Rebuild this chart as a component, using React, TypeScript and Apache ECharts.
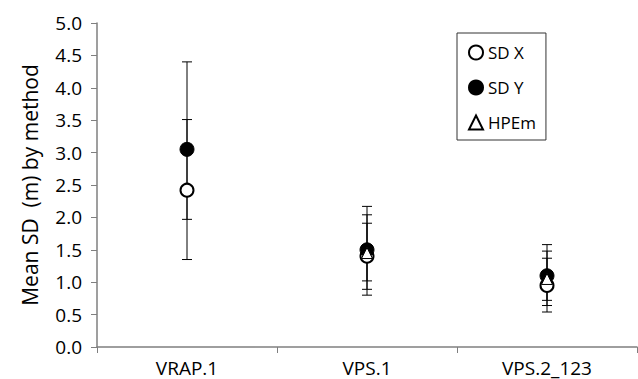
import React, { useEffect, useRef } from "react";
import * as echarts from "echarts";

const categories = ["VRAP.1", "VPS.1", "VPS.2_123"];

const sdX = [2.42, 1.4, 0.95];
const sdY = [3.05, 1.5, 1.1];
const hpem = [null, 1.45, 1.05];

// error bar end points [low, high] per category
const sdXErr = [
  [1.35, 3.51],
  [0.89, 1.91],
  [0.64, 1.37],
];
const sdYErr = [
  [1.97, 4.4],
  [0.8, 2.17],
  [0.72, 1.58],
];
const hpemErr = [
  null,
  [1.02, 2.04],
  [0.54, 1.48],
];

const FONT = "Open Sans";

export default function App() {
  const ref = useRef<HTMLDivElement>(null);
  useEffect(() => {
    if (!ref.current) return;
    const chart = echarts.init(ref.current, null, { renderer: "svg" });

    const errData: any[] = [];
    [sdXErr, sdYErr, hpemErr].forEach((arr) => {
      arr.forEach((e, i) => {
        if (e) errData.push([i, e[0], e[1]]);
      });
    });

    const renderItem = (params: any, api: any) => {
      const x = api.value(0);
      const lo = api.coord([x, api.value(1)]);
      const hi = api.coord([x, api.value(2)]);
      const hw = 5;
      const style = { stroke: "#000", lineWidth: 1 };
      return {
        type: "group",
        children: [
          { type: "line", shape: { x1: lo[0], y1: lo[1], x2: hi[0], y2: hi[1] }, style },
          { type: "line", shape: { x1: lo[0] - hw, y1: lo[1], x2: lo[0] + hw, y2: lo[1] }, style },
          { type: "line", shape: { x1: hi[0] - hw, y1: hi[1], x2: hi[0] + hw, y2: hi[1] }, style },
        ],
      };
    };

    chart.setOption({
      animation: false,
      backgroundColor: "#fff",
      grid: { left: 97, right: 1, top: 23, bottom: 32, containLabel: false },
      legend: {
        orient: "vertical",
        left: 457,
        top: 33,
        padding: [11, 10, 9, 11],
        itemGap: 18,
        itemWidth: 14,
        itemHeight: 14,
        borderColor: "#333",
        borderWidth: 1,
        textStyle: { fontFamily: FONT, fontSize: 17, color: "#000" },
        data: ["SD X", "SD Y", "HPEm"],
      },
      xAxis: {
        type: "category",
        data: categories,
        axisLine: { lineStyle: { color: "#7f7f7f", width: 1.5 } },
        axisTick: { show: true, length: 6, lineStyle: { color: "#7f7f7f" } },
        axisLabel: { fontFamily: FONT, fontSize: 19, color: "#000", margin: 11 },
        splitLine: { show: false },
      },
      yAxis: {
        type: "value",
        min: 0,
        max: 5,
        interval: 0.5,
        name: "Mean SD  (m) by method",
        nameLocation: "middle",
        nameGap: 57,
        nameTextStyle: { fontFamily: FONT, fontSize: 21, color: "#000" },
        axisLine: { show: true, lineStyle: { color: "#7f7f7f", width: 1.5 } },
        axisTick: { show: true, length: 6, lineStyle: { color: "#7f7f7f" } },
        axisLabel: {
          fontFamily: FONT,
          fontSize: 19,
          color: "#000",
          margin: 15,
          formatter: (v: number) => v.toFixed(1),
        },
        splitLine: { show: false },
      },
      series: [
        {
          type: "custom",
          name: "err",
          renderItem,
          data: errData,
          encode: { x: 0, y: [1, 2] },
          z: 1,
          silent: true,
        },
        {
          type: "scatter",
          name: "SD X",
          data: sdX.map((v, i) => [i, v]),
          symbol: "circle",
          symbolSize: 13,
          itemStyle: { color: "#fff", borderColor: "#000", borderWidth: 2, opacity: 1 },
          z: 2,
        },
        {
          type: "scatter",
          name: "SD Y",
          data: sdY.map((v, i) => [i, v]),
          symbol: "circle",
          symbolSize: 14,
          itemStyle: { color: "#000", borderColor: "#000", borderWidth: 1, opacity: 1 },
          z: 3,
        },
        {
          type: "scatter",
          name: "HPEm",
          data: hpem.map((v, i) => (v == null ? [i, "-"] : [i, v])),
          symbol: "triangle",
          symbolSize: 11,
          itemStyle: { color: "#fff", borderColor: "#000", borderWidth: 1, opacity: 1 },
          z: 4,
        },
      ],
    });
    return () => chart.dispose();
  }, []);
  return (
    <div
      ref={ref}
      style={{ position: "fixed", left: 0, top: 0, width: 638, height: 379 }}
    />
  );
}
